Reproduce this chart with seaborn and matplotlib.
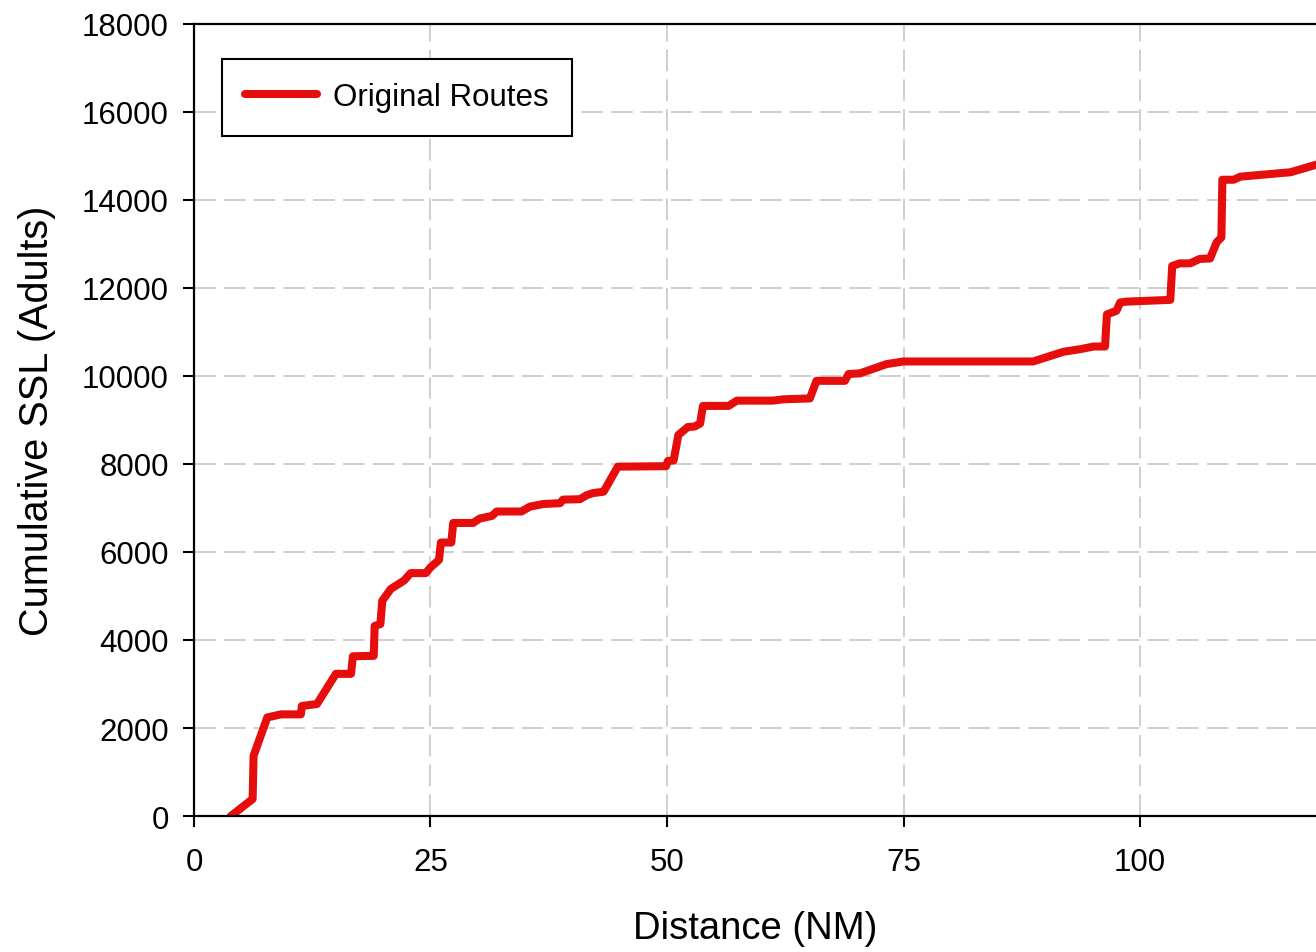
import numpy as np
import pandas as pd
import seaborn as sns
from matplotlib import pyplot as plt

# values
distance_nm = [3.9, 6.2, 6.3, 7.75, 9.2, 11.3, 11.4, 13.0, 15.0, 16.6, 16.8, 19.0, 19.1,
               19.7, 19.9, 20.8, 22.2, 22.9, 24.5, 25.0, 25.9, 26.1, 27.2, 27.4, 29.5,
               30.2, 31.5, 32.0, 34.6, 35.5, 36.9, 38.7, 39.0, 40.8, 41.5, 42.2, 43.3,
               44.8, 49.9, 50.1, 50.7, 51.2, 52.2, 52.9, 53.5, 53.8, 56.5, 57.4, 61.2,
               62.3, 65.1, 65.8, 68.8, 69.2, 70.4, 73.2, 75.0, 88.7, 91.9, 93.7, 95.1,
               96.3, 96.5, 97.5, 97.9, 98.6, 103.2, 103.4, 104.2, 105.3, 106.3, 107.4,
               108.1, 108.6, 108.7, 109.9, 110.6, 115.9, 118.6, 120.0]
cum_ssl = [0, 386, 1370, 2240, 2310, 2310, 2500, 2545, 3230, 3230, 3630, 3640, 4320,
           4360, 4890, 5160, 5350, 5520, 5520, 5650, 5820, 6215, 6215, 6660, 6660,
           6760, 6820, 6920, 6920, 7030, 7090, 7110, 7190, 7200, 7290, 7340, 7370,
           7940, 7950, 8070, 8080, 8660, 8840, 8850, 8920, 9320, 9320, 9440, 9440,
           9470, 9490, 9890, 9890, 10045, 10060, 10270, 10330, 10330, 10550, 10610, 10670,
           10670, 11400, 11480, 11670, 11690, 11730, 12500, 12560, 12560, 12660, 12670,
           13040, 13150, 14460, 14460, 14530, 14630, 14800, 14880]
series_name = "Original Routes"
x_ticks = [0, 25, 50, 75, 100]
y_ticks = list(range(0, 18001, 2000))

df = pd.DataFrame({"Distance (NM)": distance_nm, "Cumulative SSL (Adults)": cum_ssl})

sns.set_style("white")
plt.rcParams['font.family'] = ['Liberation Sans', 'DejaVu Sans']
plt.rcParams['text.color'] = 'black'
plt.rcParams['axes.labelcolor'] = 'black'
plt.rcParams['xtick.color'] = 'black'
plt.rcParams['ytick.color'] = 'black'

fig = plt.figure(figsize=(13.16, 9.53), dpi=100)
ax = fig.add_axes([0.1474, 0.1427, 0.8526, 0.8311])

sns.lineplot(data=df, x="Distance (NM)", y="Cumulative SSL (Adults)", ax=ax,
             estimator=None, sort=False, color="#e60d0d", linewidth=5.8,
             label=series_name, solid_joinstyle="round")

ax.set_xticks(x_ticks)
ax.set_yticks(y_ticks)
ax.set_xlim(0, 118.6)
ax.set_ylim(0, 18000)
ax.grid(True, color="#cccccc", linestyle=(0, (12, 4.5)), linewidth=1.3)
ax.set_axisbelow(True)

for s in ["left", "top", "bottom"]:
    ax.spines[s].set_color("black")
    ax.spines[s].set_linewidth(1.6)
ax.spines["right"].set_visible(False)

ax.tick_params(axis="both", direction="out", length=8, width=1.5, color="black",
               labelsize=22.5, bottom=True, left=True)
ax.tick_params(axis="x", pad=14)
ax.tick_params(axis="y", pad=10)
ax.set_xlabel("Distance (NM)", fontsize=27.5, labelpad=24)
ax.set_ylabel("Cumulative SSL (Adults)", fontsize=28.5, labelpad=19)

leg = ax.legend(loc="upper left", bbox_to_anchor=(0.025, 0.956), borderaxespad=0,
                fontsize=22.5, handlelength=2.3, handletextpad=0.5, fancybox=False,
                borderpad=0.75, framealpha=1)
leg.get_frame().set_edgecolor("black")
leg.get_frame().set_linewidth(1.5)

fig.savefig("out.png", dpi=100)
